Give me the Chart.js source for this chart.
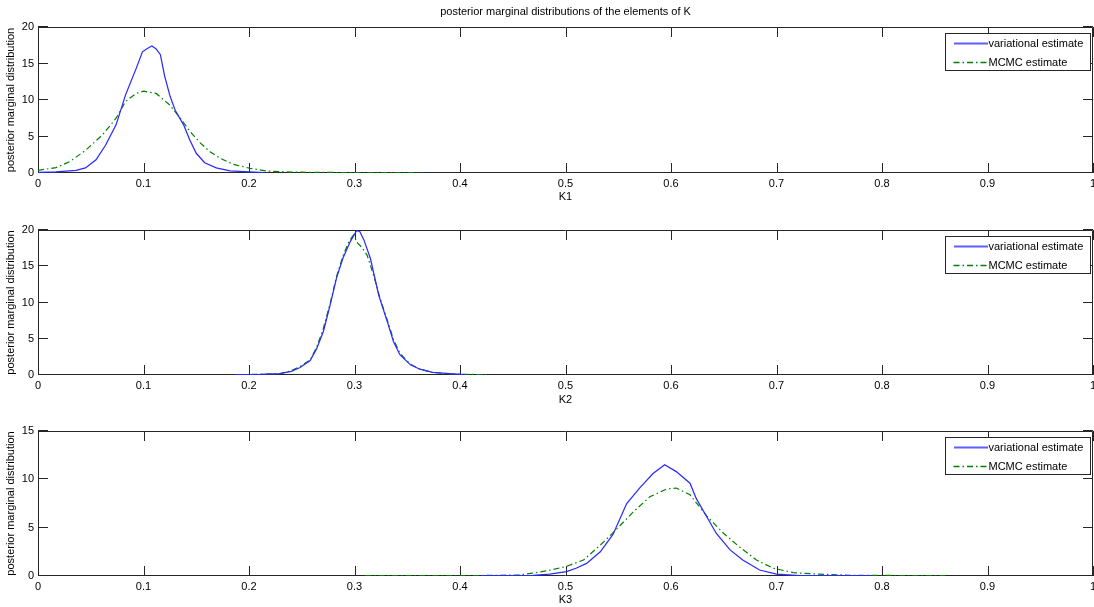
<!DOCTYPE html>
<html><head><meta charset="utf-8">
<script src="https://cdn.jsdelivr.net/npm/chart.js@4.4.0/dist/chart.umd.min.js"></script>
<style>html,body{margin:0;padding:0;background:#fff;overflow:hidden;width:1094px;height:607px}canvas{position:absolute;left:0}</style>
</head><body>
<canvas id="c1" width="1094" height="204" style="top:0px"></canvas>
<canvas id="c2" width="1094" height="203" style="top:204px"></canvas>
<canvas id="c3" width="1094" height="200" style="top:407px"></canvas>
<script>
const chartTitle = 'posterior marginal distributions of the elements of K';
const yAxisLabel = 'posterior marginal distribution';
const xAxisLabels = ['K1', 'K2', 'K3'];
const seriesNames = ['variational estimate', 'MCMC estimate'];
const yMaxes = [20, 20, 15];

// K1
const k1VarX = [0, 0.017, 0.036, 0.045, 0.055, 0.064, 0.074, 0.083, 0.093, 0.099, 0.104, 0.108, 0.112, 0.116, 0.120, 0.125, 0.130, 0.138, 0.144, 0.150, 0.158, 0.169, 0.182, 0.200, 0.215];
const k1VarY = [0.1, 0.15, 0.35, 0.7, 1.8, 3.8, 6.6, 10.7, 14.3, 16.6, 17.1, 17.4, 17.0, 16.2, 13.3, 10.6, 8.6, 6.6, 4.5, 2.7, 1.4, 0.7, 0.3, 0.15, 0.05];
const k1McmcX = [0, 0.017, 0.03, 0.045, 0.061, 0.074, 0.083, 0.093, 0.1, 0.112, 0.125, 0.135, 0.144, 0.154, 0.163, 0.173, 0.185, 0.201, 0.217, 0.24, 0.27, 0.3, 0.33, 0.365];
const k1McmcY = [0.37, 0.73, 1.55, 3.1, 5.2, 7.5, 9.8, 10.9, 11.2, 10.9, 9.3, 7.5, 5.7, 4.1, 2.9, 2.0, 1.2, 0.64, 0.27, 0.12, 0.08, 0.06, 0.05, 0.04];

// K2
const k2VarX = [0.187, 0.21, 0.229, 0.24, 0.248, 0.258, 0.264, 0.2705, 0.277, 0.283, 0.289, 0.296, 0.302, 0.305, 0.309, 0.315, 0.323, 0.331, 0.337, 0.343, 0.353, 0.362, 0.374, 0.39, 0.405];
const k2VarY = [0.05, 0.08, 0.2, 0.5, 1.0, 2.0, 3.6, 6.0, 9.7, 13.4, 16.1, 18.4, 19.9, 19.8, 18.6, 16.1, 11.0, 7.4, 4.6, 2.8, 1.4, 0.8, 0.37, 0.2, 0.05];
const k2McmcX = [0.19, 0.21, 0.23, 0.24, 0.25, 0.258, 0.264, 0.27, 0.277, 0.283, 0.289, 0.295, 0.299, 0.303, 0.307, 0.312, 0.318, 0.325, 0.331, 0.337, 0.343, 0.353, 0.362, 0.374, 0.39, 0.41, 0.425];
const k2McmcY = [0.05, 0.1, 0.2, 0.6, 1.3, 2.1, 3.8, 6.2, 9.9, 13.6, 16.4, 18.5, 19.3, 18.2, 17.6, 16.5, 13.8, 10.2, 7.6, 4.9, 3.0, 1.5, 0.8, 0.35, 0.15, 0.08, 0.05];

// K3
const k3VarX = [0.42, 0.45, 0.469, 0.485, 0.501, 0.51, 0.52, 0.533, 0.545, 0.558, 0.571, 0.583, 0.594, 0.605, 0.618, 0.624, 0.634, 0.643, 0.656, 0.668, 0.684, 0.7, 0.722, 0.75, 0.79];
const k3VarY = [0.03, 0.05, 0.07, 0.2, 0.45, 0.8, 1.3, 2.5, 4.3, 7.5, 9.2, 10.6, 11.5, 10.8, 9.6, 8.0, 6.1, 4.4, 2.7, 1.65, 0.62, 0.2, 0.03, 0.05, 0.03];
const k3McmcX = [0.31, 0.35, 0.4, 0.43, 0.454, 0.47, 0.485, 0.501, 0.517, 0.533, 0.548, 0.564, 0.58, 0.596, 0.605, 0.618, 0.634, 0.65, 0.665, 0.681, 0.697, 0.716, 0.738, 0.77, 0.82, 0.86];
const k3McmcY = [0.03, 0.03, 0.04, 0.06, 0.1, 0.3, 0.6, 1.0, 1.65, 3.2, 4.8, 6.6, 8.2, 9.0, 9.1, 8.4, 6.2, 4.4, 3.0, 1.65, 0.8, 0.35, 0.2, 0.08, 0.05, 0.04];

const FONT = 'Liberation Sans, Arial, sans-serif';
const AXIS_COLOR = '#262626';
const pts = (xs, ys) => xs.map((x, i) => ({x: x, y: ys[i]}));

const framePlugin = {
  id: 'matlabFrame',
  beforeDatasetsDraw(chart) {
    const ctx = chart.ctx, a = chart.chartArea;
    const xs = chart.scales.x, ys = chart.scales.y;
    ctx.save();
    ctx.strokeStyle = AXIS_COLOR;
    ctx.lineWidth = 1;
    ctx.beginPath();
    ctx.rect(Math.round(a.left) + 0.5, Math.round(a.top) + 0.5, Math.round(a.right - a.left) - 1, Math.round(a.bottom - a.top) - 1);
    ctx.stroke();
    ctx.beginPath();
    xs.ticks.forEach(t => {
      const p = Math.round(xs.getPixelForValue(t.value)) + 0.5;
      ctx.moveTo(p, a.bottom); ctx.lineTo(p, a.bottom - 10);
      ctx.moveTo(p, a.top); ctx.lineTo(p, a.top + 10);
    });
    ys.ticks.forEach(t => {
      const p = Math.round(ys.getPixelForValue(t.value)) - 0.5;
      ctx.moveTo(a.left, p); ctx.lineTo(a.left + 10, p);
      ctx.moveTo(a.right, p); ctx.lineTo(a.right - 10, p);
    });
    ctx.stroke();
    ctx.restore();
  },
  afterDatasetsDraw(chart) {
    const ctx = chart.ctx, a = chart.chartArea;
    ctx.save();
    ctx.lineWidth = 1;
    const w = 145, h = 37;
    const lx = Math.round(a.right - w - 3) + 0.5, ly = Math.round(a.top + 6) + 0.5;
    ctx.fillStyle = '#fff';
    ctx.fillRect(lx, ly, w, h);
    ctx.strokeStyle = AXIS_COLOR;
    ctx.strokeRect(lx, ly, w, h);
    ctx.font = '11px ' + FONT;
    ctx.textBaseline = 'middle';
    ctx.textAlign = 'left';
    chart.data.datasets.forEach((ds, i) => {
      const ry = Math.round(ly + 9.5 + i * 18.5);
      if (ds.borderDash) {
        ctx.strokeStyle = ds.borderColor;
        ctx.lineWidth = 1.3;
        ctx.setLineDash(ds.borderDash);
        ctx.beginPath(); ctx.moveTo(lx + 8, ry + 0.5); ctx.lineTo(lx + 42, ry + 0.5); ctx.stroke();
        ctx.setLineDash([]);
        ctx.lineWidth = 1;
      } else {
        ctx.fillStyle = ds.borderColor;
        ctx.globalAlpha = 0.75;
        ctx.fillRect(Math.round(lx + 8), ry - 0.5, 34, 2);
        ctx.globalAlpha = 1;
      }
      ctx.fillStyle = '#000';
      ctx.fillText(ds.label, lx + 43, ry + 0.5);
    });
    const opt = chart.options.plugins.matlabFrame;
    if (opt && opt.title) {
      ctx.textAlign = 'center';
      ctx.fillStyle = '#000';
      ctx.fillText(opt.title, (a.left + a.right) / 2, 12);
    }
    ctx.restore();
  }
};

function makeChart(id, idx, varX, varY, mcX, mcY, padTop, axisH) {
  return new Chart(document.getElementById(id), {
    type: 'line',
    data: {
      datasets: [
        {label: seriesNames[0], data: pts(varX, varY), borderColor: '#2a2aff', borderWidth: 1.25, pointRadius: 0, tension: 0, fill: false},
        {label: seriesNames[1], data: pts(mcX, mcY), borderColor: '#008000', borderWidth: 1.2, borderDash: [6, 3, 1.5, 3], pointRadius: 0, tension: 0, fill: false}
      ]
    },
    options: {
      responsive: false, animation: false, devicePixelRatio: 1,
      layout: {padding: {top: padTop, left: 0, right: 1, bottom: 0}},
      plugins: {legend: {display: false}, tooltip: {enabled: false}, matlabFrame: {title: idx === 0 ? chartTitle : null}},
      scales: {
        x: {
          type: 'linear', min: 0, max: 1,
          grid: {display: false, drawTicks: false}, border: {display: false},
          ticks: {stepSize: 0.1, padding: 4, color: '#000', font: {family: FONT, size: 11}, maxRotation: 0, autoSkip: false,
                  callback: v => String(+(+v).toFixed(1))},
          title: {display: true, text: xAxisLabels[idx], color: '#000', font: {family: FONT, size: 11}, padding: {top: 0, bottom: 0}},
          afterFit: s => { s.height = axisH; s.paddingLeft = 0; s.paddingRight = 0; }
        },
        y: {
          min: 0, max: yMaxes[idx],
          grid: {display: false, drawTicks: false}, border: {display: false},
          ticks: {stepSize: 5, padding: 4, color: '#000', font: {family: FONT, size: 11}},
          title: {display: true, text: yAxisLabel, color: '#000', font: {family: FONT, size: 11}, padding: {top: 4, bottom: 0}},
          afterFit: s => { s.width = 38; s.paddingTop = 0; s.paddingBottom = 0; }
        }
      }
    },
    plugins: [framePlugin]
  });
}

makeChart('c1', 0, k1VarX, k1VarY, k1McmcX, k1McmcY, 27, 31);
makeChart('c2', 1, k2VarX, k2VarY, k2McmcX, k2McmcY, 26, 32);
makeChart('c3', 2, k3VarX, k3VarY, k3McmcX, k3McmcY, 24, 31);
</script>
</body></html>
